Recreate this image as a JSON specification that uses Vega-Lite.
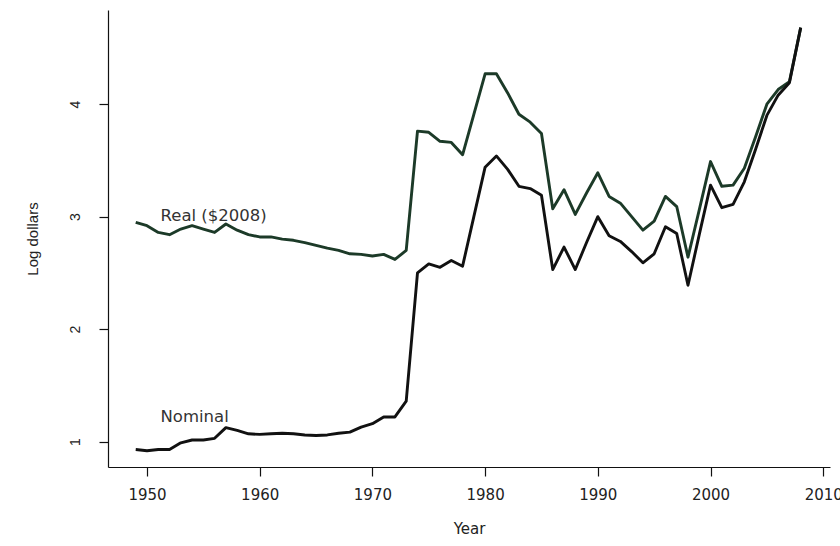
{
  "$schema": "https://vega.github.io/schema/vega-lite/v6.json",
  "width": 722,
  "height": 457,
  "autosize": "none",
  "padding": {"left": 108, "top": 10, "right": 10, "bottom": 79},
  "background": "white",
  "config": {"view": {"stroke": null}},
  "datasets": {
    "series": [
      {"year": 1949, "Real": 2.95, "Nominal": 0.93},
      {"year": 1950, "Real": 2.92, "Nominal": 0.92},
      {"year": 1951, "Real": 2.86, "Nominal": 0.93},
      {"year": 1952, "Real": 2.84, "Nominal": 0.93},
      {"year": 1953, "Real": 2.89, "Nominal": 0.99},
      {"year": 1954, "Real": 2.92, "Nominal": 1.015},
      {"year": 1955, "Real": 2.89, "Nominal": 1.015},
      {"year": 1956, "Real": 2.86, "Nominal": 1.03},
      {"year": 1957, "Real": 2.935, "Nominal": 1.125},
      {"year": 1958, "Real": 2.88, "Nominal": 1.10},
      {"year": 1959, "Real": 2.84, "Nominal": 1.07},
      {"year": 1960, "Real": 2.82, "Nominal": 1.065},
      {"year": 1961, "Real": 2.82, "Nominal": 1.07},
      {"year": 1962, "Real": 2.80, "Nominal": 1.075},
      {"year": 1963, "Real": 2.79, "Nominal": 1.07},
      {"year": 1964, "Real": 2.77, "Nominal": 1.06},
      {"year": 1965, "Real": 2.745, "Nominal": 1.055},
      {"year": 1966, "Real": 2.72, "Nominal": 1.06},
      {"year": 1967, "Real": 2.70, "Nominal": 1.075},
      {"year": 1968, "Real": 2.67, "Nominal": 1.085},
      {"year": 1969, "Real": 2.665, "Nominal": 1.13},
      {"year": 1970, "Real": 2.65, "Nominal": 1.16},
      {"year": 1971, "Real": 2.665, "Nominal": 1.22},
      {"year": 1972, "Real": 2.62, "Nominal": 1.22},
      {"year": 1973, "Real": 2.70, "Nominal": 1.36},
      {"year": 1974, "Real": 3.76, "Nominal": 2.50},
      {"year": 1975, "Real": 3.75, "Nominal": 2.58},
      {"year": 1976, "Real": 3.67, "Nominal": 2.55},
      {"year": 1977, "Real": 3.66, "Nominal": 2.61},
      {"year": 1978, "Real": 3.55, "Nominal": 2.56},
      {"year": 1979, "Real": 3.91, "Nominal": 3.00},
      {"year": 1980, "Real": 4.27, "Nominal": 3.44},
      {"year": 1981, "Real": 4.27, "Nominal": 3.54},
      {"year": 1982, "Real": 4.10, "Nominal": 3.42},
      {"year": 1983, "Real": 3.91, "Nominal": 3.27},
      {"year": 1984, "Real": 3.84, "Nominal": 3.25},
      {"year": 1985, "Real": 3.74, "Nominal": 3.19},
      {"year": 1986, "Real": 3.07, "Nominal": 2.53},
      {"year": 1987, "Real": 3.24, "Nominal": 2.73},
      {"year": 1988, "Real": 3.02, "Nominal": 2.53},
      {"year": 1989, "Real": 3.21, "Nominal": 2.77},
      {"year": 1990, "Real": 3.39, "Nominal": 3.00},
      {"year": 1991, "Real": 3.18, "Nominal": 2.83},
      {"year": 1992, "Real": 3.12, "Nominal": 2.78},
      {"year": 1993, "Real": 3.00, "Nominal": 2.69},
      {"year": 1994, "Real": 2.88, "Nominal": 2.59},
      {"year": 1995, "Real": 2.96, "Nominal": 2.67},
      {"year": 1996, "Real": 3.18, "Nominal": 2.91},
      {"year": 1997, "Real": 3.09, "Nominal": 2.85},
      {"year": 1998, "Real": 2.64, "Nominal": 2.39},
      {"year": 1999, "Real": 3.06, "Nominal": 2.84},
      {"year": 2000, "Real": 3.49, "Nominal": 3.28},
      {"year": 2001, "Real": 3.27, "Nominal": 3.08},
      {"year": 2002, "Real": 3.28, "Nominal": 3.11},
      {"year": 2003, "Real": 3.43, "Nominal": 3.31},
      {"year": 2004, "Real": 3.71, "Nominal": 3.60},
      {"year": 2005, "Real": 4.00, "Nominal": 3.90},
      {"year": 2006, "Real": 4.13, "Nominal": 4.08},
      {"year": 2007, "Real": 4.20, "Nominal": 4.19},
      {"year": 2008, "Real": 4.68, "Nominal": 4.68}
    ],
    "labels": [
      {"year": 1951.2, "value": 3.01, "label": "Real ($2008)"},
      {"year": 1951.2, "value": 1.215, "label": "Nominal"}
    ]
  },
  "layer": [
    {
      "data": {"name": "series"},
      "transform": [{"fold": ["Real", "Nominal"], "as": ["series", "value"]}],
      "mark": {"type": "line", "strokeWidth": 2.9, "strokeJoin": "round", "clip": true},
      "encoding": {
        "x": {
          "field": "year", "type": "quantitative",
          "scale": {"domain": [1946.54, 2010.6], "nice": false, "zero": false},
          "axis": {
            "title": "Year", "values": [1950, 1960, 1970, 1980, 1990, 2000, 2010], "format": "d",
            "grid": false, "domainColor": "#111", "domainWidth": 1.2,
            "tickColor": "#111", "tickWidth": 1.2, "tickSize": 9,
            "labelFont": "DejaVu Sans", "labelFontSize": 15, "labelColor": "#222", "labelPadding": 11,
            "labelFlush": false, "labelOverlap": false,
            "titleFont": "DejaVu Sans", "titleFontSize": 15, "titleFontWeight": "normal", "titleColor": "#222", "titlePadding": 19
          }
        },
        "y": {
          "field": "value", "type": "quantitative",
          "scale": {"domain": [0.775, 4.837], "nice": false, "zero": false},
          "axis": {
            "title": "Log dollars", "values": [1, 2, 3, 4], "format": "d",
            "grid": false, "domainColor": "#111", "domainWidth": 1.2,
            "tickColor": "#111", "tickWidth": 1.2, "tickSize": 9,
            "labelFont": "Liberation Sans", "labelFontSize": 14, "labelColor": "#222",
            "labelAngle": 270, "labelAlign": "center", "labelBaseline": "bottom", "labelPadding": 17,
            "labelFlush": false,
            "titleFont": "Liberation Sans", "titleFontSize": 15, "titleFontWeight": "normal", "titleColor": "#222", "titlePadding": 28
          }
        },
        "color": {
          "field": "series", "type": "nominal",
          "scale": {"domain": ["Real", "Nominal"], "range": ["#1c3a28", "#111111"]},
          "legend": null
        },
        "detail": {"field": "series"}
      }
    },
    {
      "data": {"name": "labels"},
      "mark": {"type": "text", "align": "left", "baseline": "middle", "font": "DejaVu Sans", "fontSize": 16.5, "color": "#333"},
      "encoding": {
        "x": {"field": "year", "type": "quantitative"},
        "y": {"field": "value", "type": "quantitative"},
        "text": {"field": "label"}
      }
    }
  ]
}
